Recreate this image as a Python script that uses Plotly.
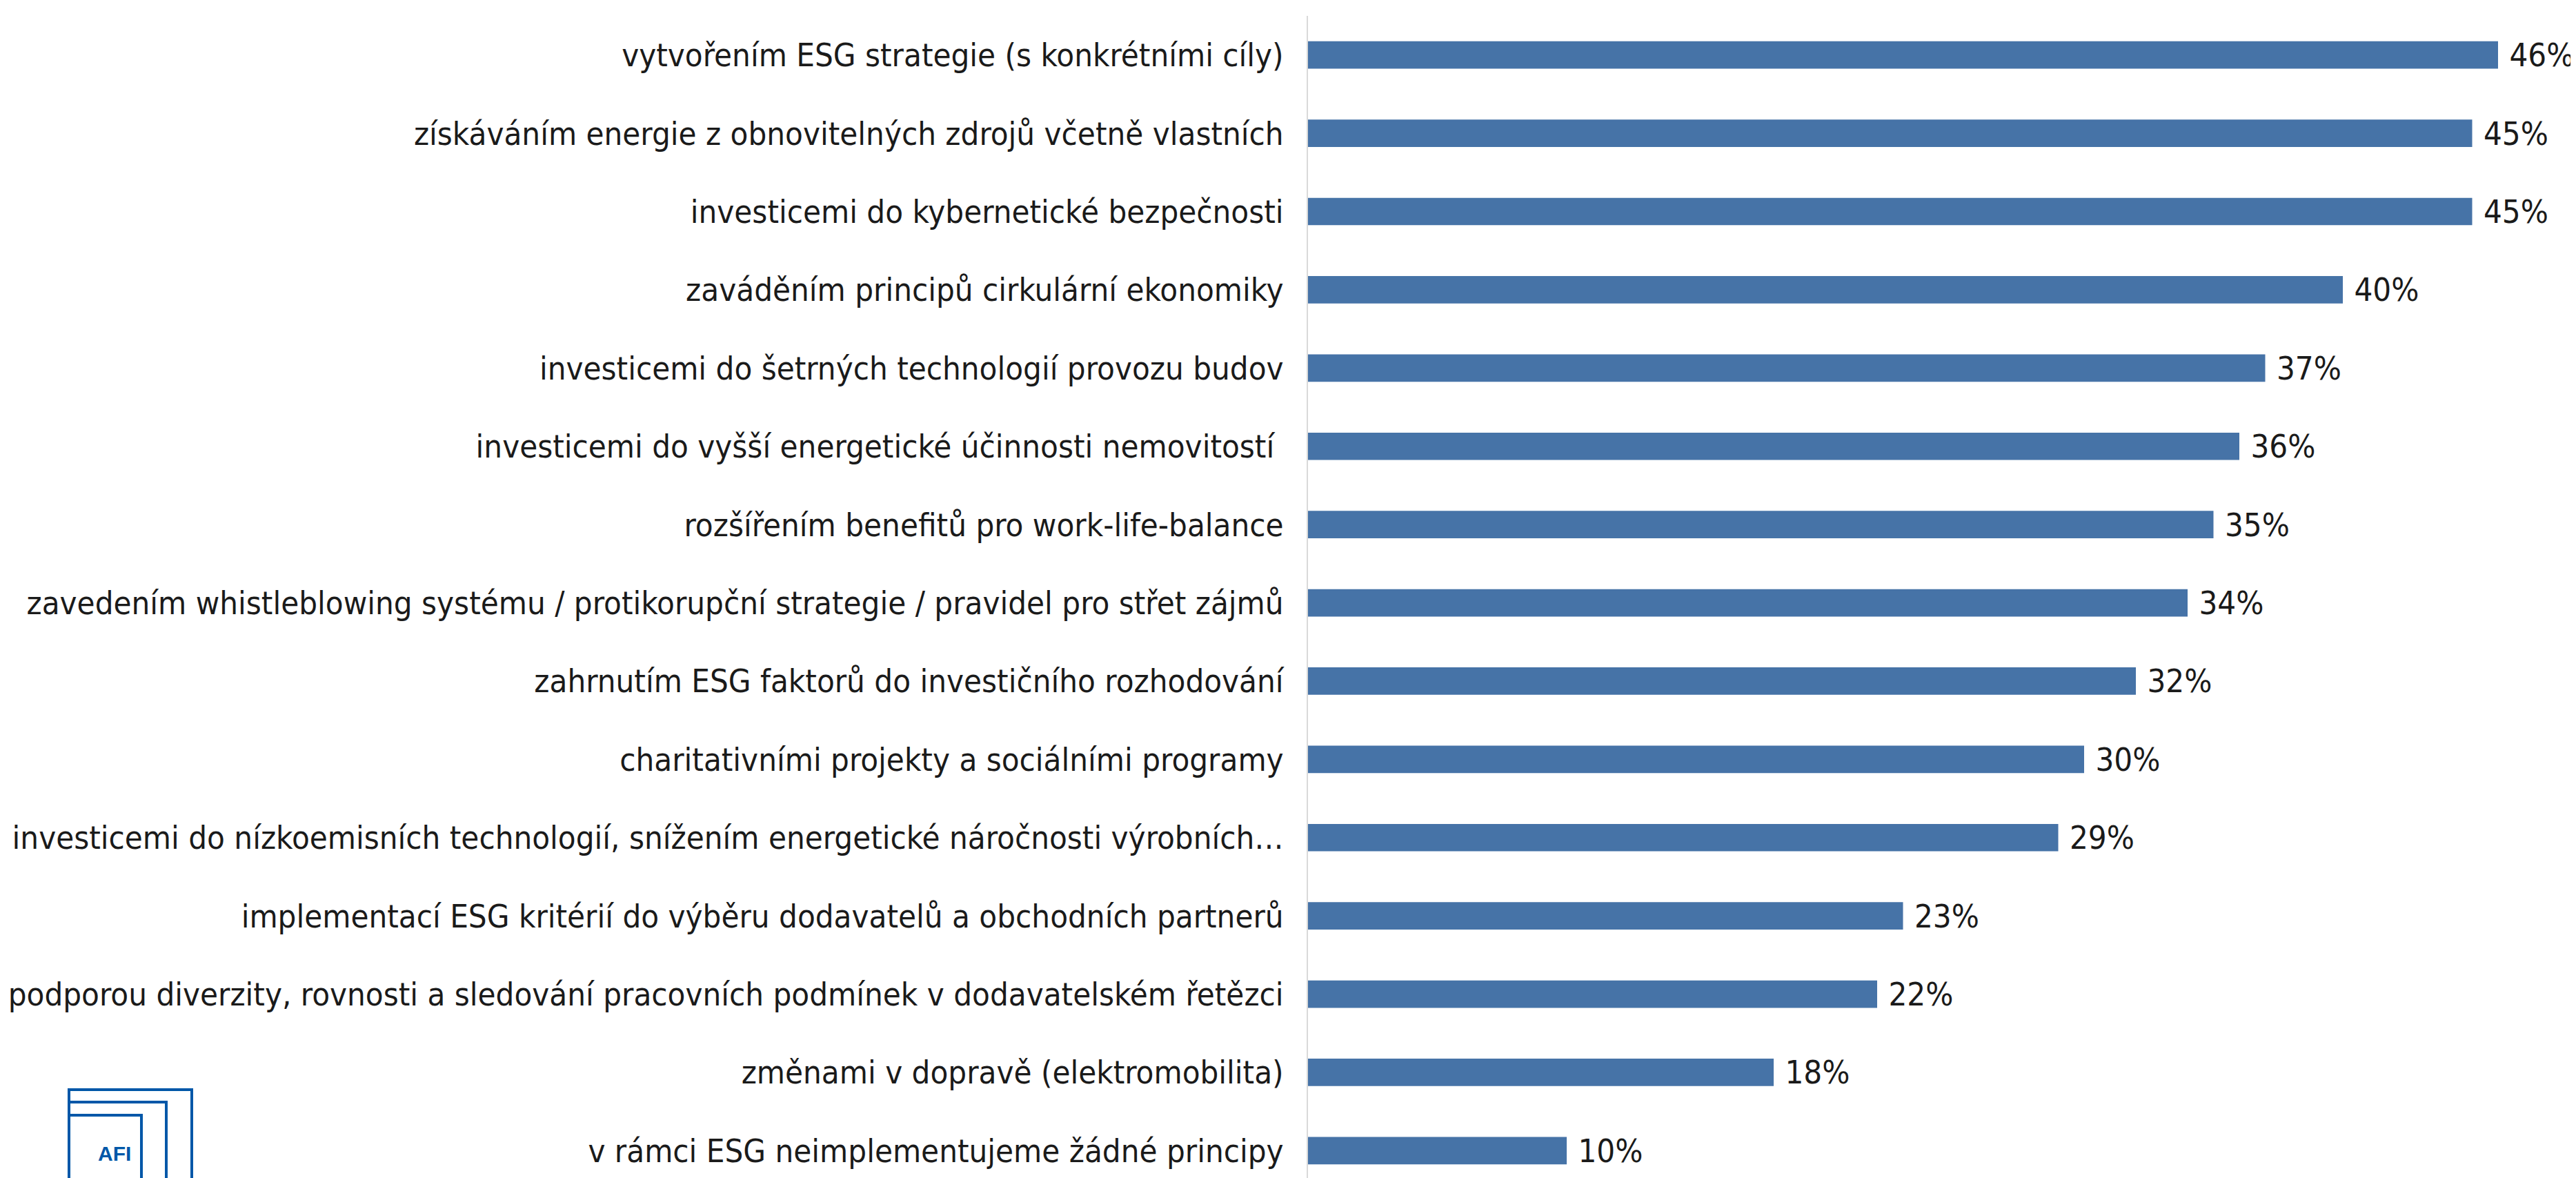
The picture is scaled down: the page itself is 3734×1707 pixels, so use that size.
import plotly.graph_objects as go

categories = [
    "vytvořením ESG strategie (s konkrétními cíly)",
    "získáváním energie z obnovitelných zdrojů včetně vlastních",
    "investicemi do kybernetické bezpečnosti",
    "zaváděním principů cirkulární ekonomiky",
    "investicemi do šetrných technologií provozu budov",
    "investicemi do vyšší energetické účinnosti nemovitostí\u00a0",
    "rozšířením benefitů pro work-life-balance",
    "zavedením whistleblowing systému / protikorupční strategie / pravidel pro střet zájmů",
    "zahrnutím ESG faktorů do investičního rozhodování",
    "charitativními projekty a sociálními programy",
    "investicemi do nízkoemisních technologií, snížením energetické náročnosti výrobních…",
    "implementací ESG kritérií do výběru dodavatelů a obchodních partnerů",
    "podporou diverzity, rovnosti a sledování pracovních podmínek v dodavatelském řetězci",
    "změnami v dopravě (elektromobilita)",
    "v rámci ESG neimplementujeme žádné principy",
]
shares = [0.46, 0.45, 0.45, 0.40, 0.37, 0.36, 0.35, 0.34, 0.32, 0.30, 0.29, 0.23, 0.22, 0.18, 0.10]

W, H = 3734, 1707
ML, MR, MT, MB = 1888, 0, 15, 0
FONT = "Tahoma, 'DejaVu Sans Condensed', 'Liberation Sans', sans-serif"
BAR = "#4673A7"
LOGO = "#0057A8"


def px(x):
    return (x - ML) / (W - ML - MR)


def py(y):
    return (H - MB - y) / (H - MT - MB)


fig = go.Figure()
fig.add_trace(go.Bar(
    x=shares,
    y=categories,
    orientation="h",
    marker=dict(color=BAR, line=dict(width=0)),
    width=0.35,
    texttemplate="\u00a0%{x:.0%}",
    textposition="outside",
    constraintext="none",
    textfont=dict(size=47, color="#1a1a1a", family=FONT),
    cliponaxis=False,
))

# AFI logo, bottom left
for right, top in [(270, 1571), (233, 1589), (197, 1608)]:
    fig.add_shape(type="rect", xref="paper", yref="paper",
                  x0=px(92), x1=px(right), y0=py(1760), y1=py(top),
                  line=dict(color=LOGO, width=4), fillcolor="rgba(0,0,0,0)")
fig.add_annotation(xref="paper", yref="paper", x=px(158), y=py(1663),
                   xanchor="center", yanchor="middle",
                   text="<b>AFI</b>", showarrow=False,
                   font=dict(size=30, color=LOGO, family="'Liberation Sans', Arial, sans-serif"))

fig.update_layout(
    width=W, height=H,
    margin=dict(l=ML, r=MR, t=MT, b=MB, pad=0),
    paper_bgcolor="white",
    plot_bgcolor="white",
    showlegend=False,
    font=dict(family=FONT, size=47, color="#1a1a1a"),
)
fig.update_xaxes(range=[0, (W - ML - MR) / 3750], visible=False, showgrid=False, zeroline=False)
fig.update_yaxes(type="category", range=[14.42, -0.5], showgrid=False, zeroline=False,
                 showline=True, linecolor="#D9D9D9", linewidth=2,
                 ticks="", ticklabelstandoff=24,
                 tickfont=dict(size=47, color="#1a1a1a", family=FONT))

fig.write_html("out.html")
